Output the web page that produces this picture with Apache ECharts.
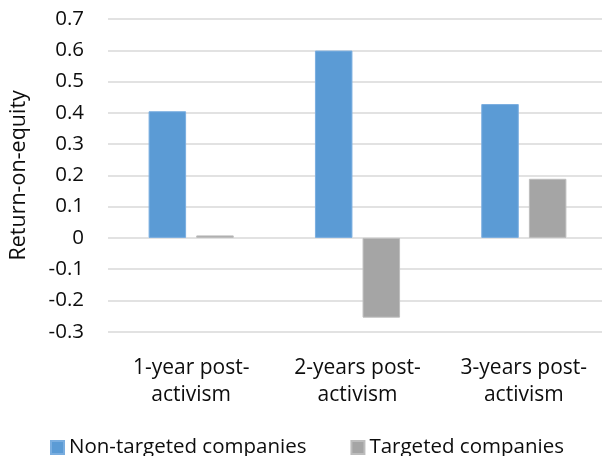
<!DOCTYPE html>
<html>
<head>
<meta charset="utf-8">
<script src="https://cdn.jsdelivr.net/npm/echarts@6/dist/echarts.min.js"></script>
<style>
html,body{margin:0;padding:0;background:#fff;overflow:hidden;width:602px;height:456px;}
#chart{width:612px;height:456px;}
</style>
</head>
<body>
<div id="chart"></div>
<script>
const categories = ['1-year post-\nactivism', '2-years post-\nactivism', '3-years post-\nactivism'];
const nonTargeted = [0.405, 0.599, 0.428];
const targeted = [0.008, -0.255, 0.189];
const seriesNames = ['Non-targeted companies', 'Targeted companies'];
const yTitle = 'Return-on-equity';

const FONT = 'Open Sans';
const TXT = '#0d0d0d';
const chart = echarts.init(document.getElementById('chart'), null, {renderer: 'canvas'});
chart.setOption({
  animation: false,
  backgroundColor: '#ffffff',
  textStyle: {fontFamily: FONT},
  grid: {left: 105, right: 5, top: 19, height: 312.7},
  legend: {
    top: 432,
    left: 45,
    itemWidth: 13,
    itemHeight: 13,
    itemGap: 44,
    icon: 'rect',
    textStyle: {fontFamily: FONT, fontSize: 20.5, color: TXT},
    data: seriesNames
  },
  xAxis: {
    type: 'category',
    data: categories,
    axisLine: {show: false},
    axisTick: {show: false},
    axisLabel: {fontFamily: FONT, fontSize: 21, color: TXT, margin: 23, lineHeight: 27, interval: 0}
  },
  yAxis: {
    type: 'value',
    min: -0.3,
    max: 0.7,
    interval: 0.1,
    name: yTitle,
    nameLocation: 'middle',
    nameGap: 78,
    nameTextStyle: {fontFamily: FONT, fontSize: 21.5, color: TXT},
    axisLine: {show: false},
    axisTick: {show: false},
    splitLine: {lineStyle: {color: '#d9d9d9', width: 1.5}},
    axisLabel: {
      fontFamily: FONT, fontSize: 20.5, color: TXT, margin: 24,
      formatter: v => { const r = Math.round(v * 10) / 10; return r === 0 ? '0' : String(r); }
    }
  },
  series: [
    {name: seriesNames[0], type: 'bar', data: nonTargeted, barWidth: 37.5, barGap: '27%',
     itemStyle: {color: '#5b9bd5', borderColor: '#7aaee0', borderWidth: 1}},
    {name: seriesNames[1], type: 'bar', data: targeted, barWidth: 37.5, barGap: '27%',
     itemStyle: {color: '#a5a5a5', borderColor: '#bdbdbd', borderWidth: 1}}
  ]
});
</script>
</body>
</html>
